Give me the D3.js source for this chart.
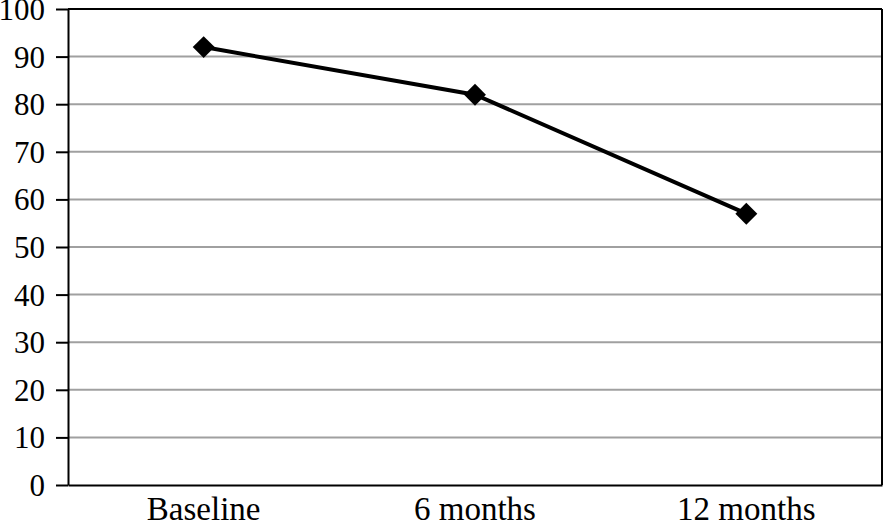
<!DOCTYPE html>
<html><head><meta charset="utf-8">
<script src="https://cdn.jsdelivr.net/npm/d3@7"></script>
<style>html,body{margin:0;padding:0;background:#fff;}svg{display:block;}</style>
</head><body>
<script>
const categories = ["Baseline", "6 months", "12 months"];
const values = [92, 82, 57];
const yTicks = [0, 10, 20, 30, 40, 50, 60, 70, 80, 90, 100];

const W = 884, H = 524;
const m = {left: 68, right: 2, top: 9, bottom: 39};
const svg = d3.select("body").append("svg").attr("width", W).attr("height", H);
const x = d3.scaleBand().domain(categories).range([m.left, W - m.right]).padding(0);
const y = d3.scaleLinear().domain([0, 100]).range([H - m.bottom, m.top]);

svg.append("g").selectAll("line").data(yTicks.filter(d => d > 0 && d < 100)).join("line")
  .attr("x1", m.left).attr("x2", W - m.right)
  .attr("y1", d => y(d)).attr("y2", d => y(d))
  .attr("stroke", "#a0a0a0").attr("stroke-width", 2);

svg.append("line").attr("x1", m.left).attr("x2", W - m.right).attr("y1", y(100)).attr("y2", y(100)).attr("stroke", "#000").attr("stroke-width", 2);
svg.append("line").attr("x1", W - m.right).attr("x2", W - m.right).attr("y1", y(100)).attr("y2", y(0)).attr("stroke", "#000").attr("stroke-width", 2);

const font = "'Liberation Serif', 'Times New Roman', serif";
const yAxis = svg.append("g").attr("transform", `translate(${m.left},0)`)
  .call(d3.axisLeft(y).tickValues(yTicks).tickSize(12).tickPadding(11).tickSizeOuter(0));
yAxis.select(".domain").attr("stroke", "#000").attr("stroke-width", 2);
yAxis.selectAll(".tick line").attr("stroke", "#000").attr("stroke-width", 2);
yAxis.selectAll("text").attr("font-family", font).attr("font-size", 31).attr("fill", "#000").attr("dy", "0.34em");

const xAxis = svg.append("g").attr("transform", `translate(0,${y(0)})`)
  .call(d3.axisBottom(x).tickSize(0).tickPadding(12).tickSizeOuter(0));
xAxis.select(".domain").attr("stroke", "#000").attr("stroke-width", 2);
xAxis.selectAll("text").attr("font-family", font).attr("font-size", 33).attr("fill", "#000").attr("dy", "0.71em");

const pts = categories.map((c, i) => [x(c) + x.bandwidth() / 2, y(values[i])]);
svg.append("path").attr("d", d3.line()(pts)).attr("fill", "none").attr("stroke", "#000").attr("stroke-width", 4);
svg.append("g").selectAll("path").data(pts).join("path")
  .attr("transform", d => `translate(${d[0]},${d[1]}) rotate(45)`)
  .attr("d", d3.symbol().type(d3.symbolSquare).size(240))
  .attr("fill", "#000");
</script>
</body></html>
